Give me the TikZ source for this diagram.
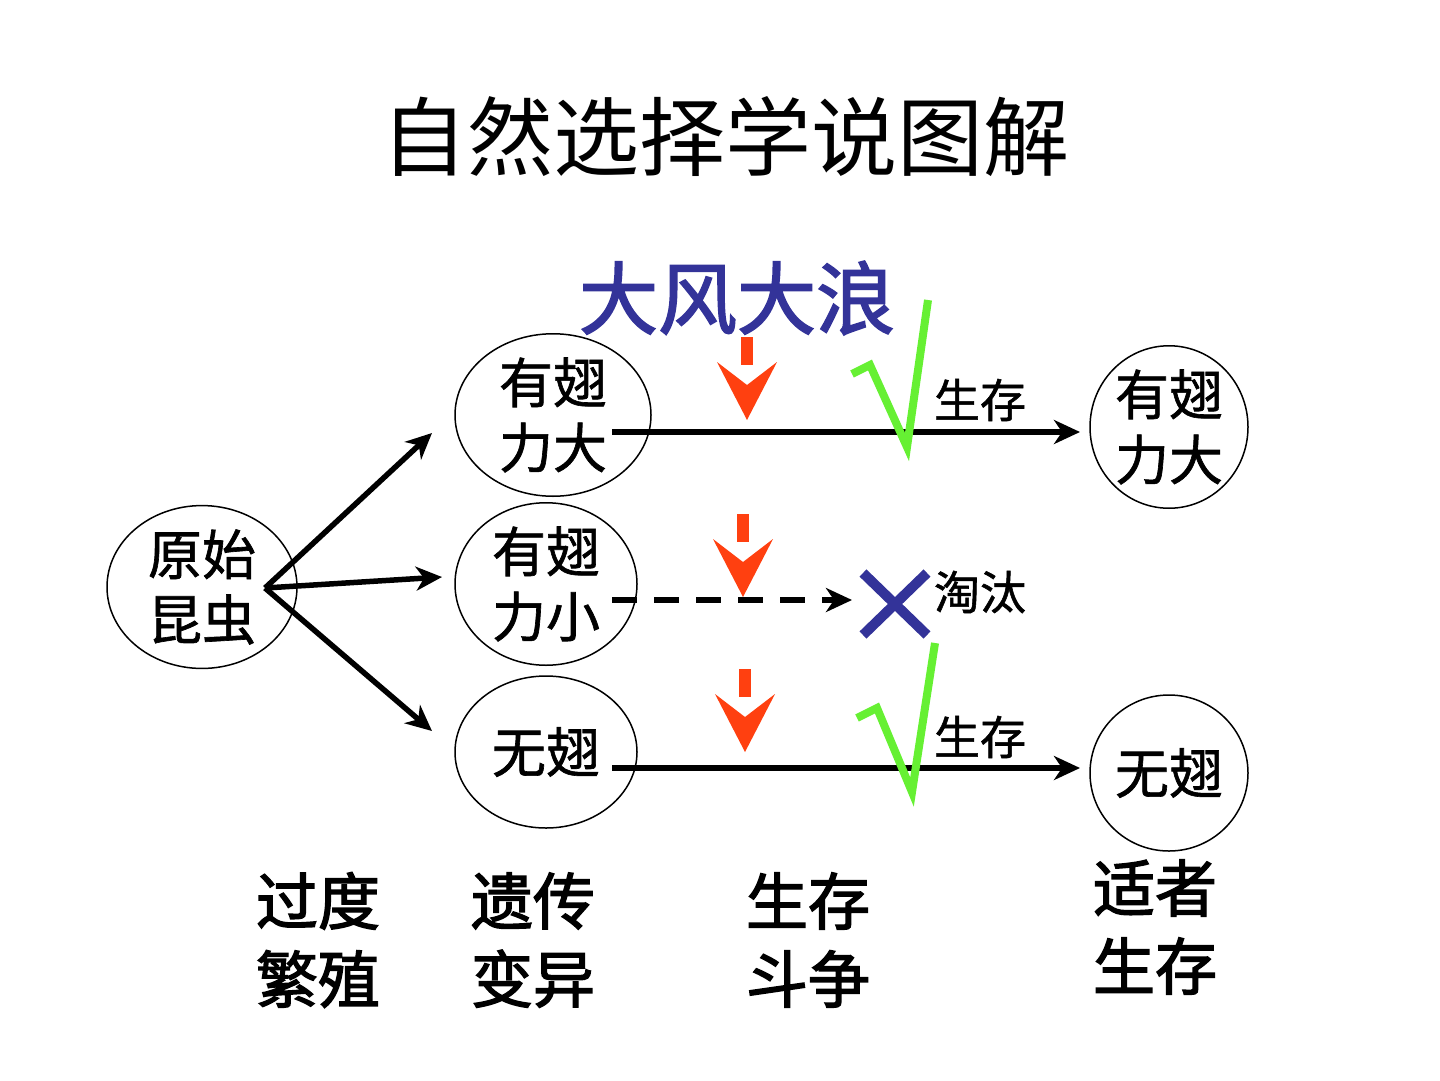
\documentclass[tikz,border=0pt]{standalone}
\usepackage{fontspec}
\setmainfont{Noto Sans CJK SC}
\newfontfamily\cjkmid[FakeBold=1.2]{Noto Sans CJK SC}
\newfontfamily\cjkheavy[FakeBold=2.2]{Noto Sans CJK SC}
\usetikzlibrary{shapes.geometric,arrows.meta}
\definecolor{redc}{RGB}{255,64,16}
\definecolor{bluec}{RGB}{51,51,153}
\definecolor{greenc}{RGB}{102,240,51}
\begin{document}
\begin{tikzpicture}[x=1pt,y=-1pt,
  oval/.style={draw, ellipse, line width=1.5pt, inner sep=0pt, align=center,
    font=\fontsize{54}{65}\selectfont\cjkmid},
  conn/.style={line width=5.5pt, -{Stealth[length=26pt,width=24pt,inset=8pt]}},
  dconn/.style={conn, dash pattern=on 25pt off 17pt},
  checkmark/.style={draw=greenc, line width=8pt, miter limit=20},
  small/.style={font=\fontsize{46}{46}\selectfont\cjkmid},
  bottomlbl/.style={align=center, font=\fontsize{62}{78}\selectfont\cjkheavy},
  redarrow/.pic={
    \fill[redc] (-6,-83) rectangle (6,-55);
    \fill[redc] (-30,-58) -- (0,-35) -- (30,-58) -- (0,0) -- cycle;
  }
]
\useasboundingbox (0,0) rectangle (1440,1080);

% title
\node[font=\fontsize{86}{86}\selectfont] (title) at (725,137) {自然选择学说图解};
\node[font=\fontsize{79}{79}\selectfont\cjkheavy, text=bluec] (wind) at (737,298) {大风大浪};

% ellipses
\node[oval, minimum width=190pt, minimum height=150pt] (orig) at (202,587) {原始\\昆虫};
\node[oval, minimum width=196pt, minimum height=156pt] (big) at (553,415) {有翅\\力大};
\node[oval, minimum width=182pt, minimum height=152pt] (weak) at (546,584) {有翅\\力小};
\node[oval, minimum width=182pt, minimum height=152pt] (none) at (546,752) {无翅};
\node[oval, minimum width=158pt, minimum height=156pt] (bigR) at (1169,427) {有翅\\力大};
\node[oval, minimum width=158pt, minimum height=156pt] (noneR) at (1169,773) {无翅};

% connector end points
\coordinate (src) at (265,588);
\coordinate (e1) at (432,433);
\coordinate (e2) at (442,577);
\coordinate (e3) at (432,731);
\coordinate (s1) at (612,432);
\coordinate (f1) at (1080,432);
\coordinate (s2) at (612,600);
\coordinate (f2) at (852,600);
\coordinate (s3) at (612,768);
\coordinate (f3) at (1080,768);

\draw[conn] (src) -- (e1);
\draw[conn] (src) -- (e2);
\draw[conn] (src) -- (e3);
\draw[conn] (s1) -- (f1);
\draw[dconn] (s2) -- (f2);
\draw[conn] (s3) -- (f3);

% red arrows
\pic at (747,420) {redarrow};
\pic at (743,597) {redarrow};
\pic at (745,752) {redarrow};

% check marks
\draw[checkmark] (852,374) -- (870,365) -- (907,447) -- (928,300);
\draw[checkmark] (857,718) -- (877,708) -- (912,792) -- (935,643);

% cross
\draw[bluec, line width=10pt] (863,573) -- (927,635) (927,573) -- (863,635);

% small labels
\node[small] (live1) at (980,400) {生存};
\node[small] (out) at (980,592) {淘汰};
\node[small] (live2) at (980,737) {生存};

% bottom labels
\node[bottomlbl] (l1) at (318,940) {过度\\繁殖};
\node[bottomlbl] (l2) at (533,940) {遗传\\变异};
\node[bottomlbl] (l3) at (808,940) {生存\\斗争};
\node[bottomlbl] (l4) at (1155,927) {适者\\生存};
\end{tikzpicture}
\end{document}
